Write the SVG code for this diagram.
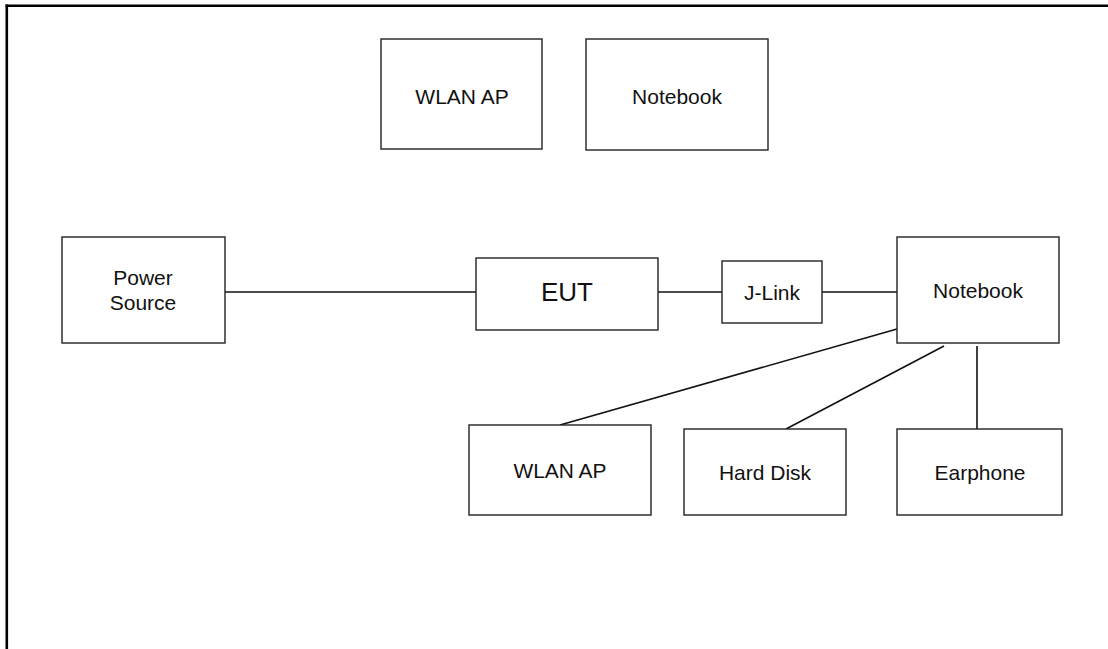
<svg xmlns="http://www.w3.org/2000/svg" width="1108" height="649" viewBox="0 0 1108 649">
<style>
.box{fill:#fff;stroke:#222;stroke-width:1.4}
.lbl{font-family:"Liberation Sans",Arial,sans-serif;font-size:21px;fill:#111;text-anchor:middle}
.big{font-size:26px}
.con{stroke:#111;stroke-width:1.6;fill:none}
.frame{stroke:#000;stroke-width:2.6;fill:none}
</style>
<rect width="1108" height="649" fill="#fff"/>
<g id="frame">
<line class="frame" x1="5.5" y1="5.8" x2="1108" y2="5.8"/>
<line class="frame" x1="6.8" y1="4.5" x2="6.8" y2="649"/>
</g>
<g id="connectors">
<line class="con" x1="225" y1="292" x2="476" y2="292"/>
<line class="con" x1="658" y1="292" x2="722" y2="292"/>
<line class="con" x1="822" y1="292" x2="897" y2="292"/>
<line class="con" x1="897" y1="329" x2="560" y2="425"/>
<line class="con" x1="944" y1="346" x2="786" y2="429"/>
<line class="con" x1="977" y1="346" x2="977" y2="429"/>
</g>
<g id="wlan-ap-top">
<rect class="box" x="381" y="39" width="161" height="110"/>
<text class="lbl" x="462" y="104">WLAN AP</text>
</g>
<g id="notebook-top">
<rect class="box" x="586" y="39" width="182" height="111"/>
<text class="lbl" x="677" y="104">Notebook</text>
</g>
<g id="power-source">
<rect class="box" x="62" y="237" width="163" height="106"/>
<text class="lbl" x="143" y="285">Power</text>
<text class="lbl" x="143" y="310">Source</text>
</g>
<g id="eut">
<rect class="box" x="476" y="258" width="182" height="72"/>
<text class="lbl big" x="567" y="301">EUT</text>
</g>
<g id="j-link">
<rect class="box" x="722" y="261" width="100" height="62"/>
<text class="lbl" x="772" y="300">J-Link</text>
</g>
<g id="notebook">
<rect class="box" x="897" y="237" width="162" height="106"/>
<text class="lbl" x="978" y="298">Notebook</text>
</g>
<g id="wlan-ap">
<rect class="box" x="469" y="425" width="182" height="90"/>
<text class="lbl" x="560" y="478" textLength="93" lengthAdjust="spacingAndGlyphs">WLAN AP</text>
</g>
<g id="hard-disk">
<rect class="box" x="684" y="429" width="162" height="86"/>
<text class="lbl" x="765" y="480">Hard Disk</text>
</g>
<g id="earphone">
<rect class="box" x="897" y="429" width="165" height="86"/>
<text class="lbl" x="980" y="480">Earphone</text>
</g>
</svg>
